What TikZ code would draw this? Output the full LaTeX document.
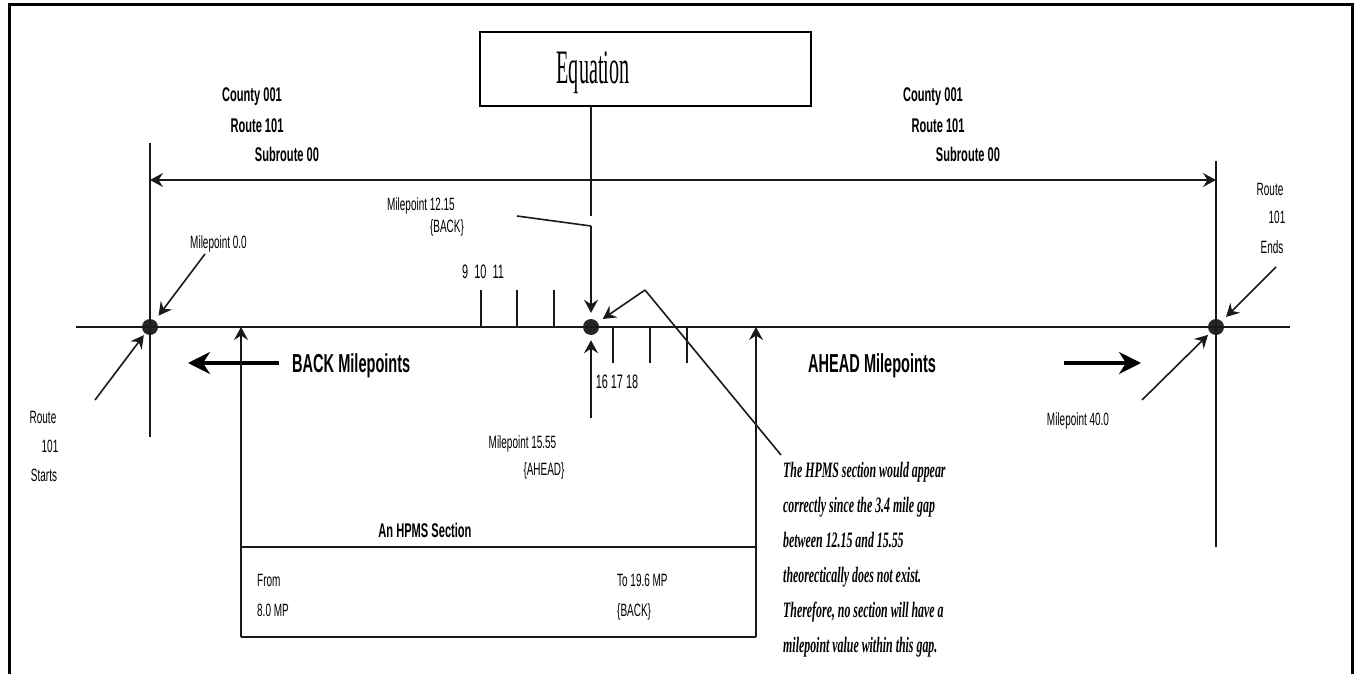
\documentclass[tikz,border=0pt]{standalone}
\usepackage{fontspec}
\usetikzlibrary{arrows.meta}
\newfontfamily\nsans{Liberation Sans}[FakeStretch=0.56]
\newfontfamily\nser{Liberation Serif}[FakeStretch=0.42]
\newfontfamily\nnote{Liberation Serif}[FakeStretch=0.54]
\begin{document}
\begin{tikzpicture}[x=1pt,y=-1pt,
  ln/.style={line width=1.6pt, black!90},
  arr/.style={ln, -{Stealth[length=13pt,width=14pt,inset=4.5pt]}},
  dbl/.style={ln, {Stealth[length=13pt,width=14pt,inset=4.5pt]}-{Stealth[length=13pt,width=14pt,inset=4.5pt]}},
  fat/.style={line width=4pt, black, -{Stealth[length=22pt,width=22pt,inset=7pt]}},
  dot/.style={circle, fill=black!85, minimum size=16pt, inner sep=0pt},
  lab/.style={font={\nsans\fontsize{17.8}{20}\selectfont}, inner sep=0pt, anchor=base},
  blab/.style={font={\nsans\bfseries\fontsize{19.8}{22}\selectfont}, inner sep=0pt, anchor=base},
  big/.style={font={\nsans\bfseries\fontsize{26}{30}\selectfont}, inner sep=0pt, anchor=base west},
  num/.style={font={\nsans\fontsize{19.5}{22}\selectfont}, inner sep=0pt, anchor=base},
  note/.style={font={\nnote\bfseries\itshape\fontsize{22}{26}\selectfont}, inner sep=0pt, anchor=base west},
  eqbox/.style={draw, line width=1.4pt, minimum width=331pt, minimum height=74pt, inner sep=0pt}
]
\useasboundingbox (0,0) rectangle (1359,674);
% frame
\coordinate (fbl) at (9,674);
\coordinate (ftl) at (9,5);
\coordinate (ftr) at (1352,5);
\coordinate (fbr) at (1352,674);
\draw[line width=3pt] (fbl) -- (ftl) -- (ftr) -- (fbr);

% equation box
\node[eqbox] (eq) at (645.5,69) {};
\node[font={\nser\fontsize{48}{52}\selectfont}, inner sep=0pt, anchor=base] (eqt) at (593,84) {Equation};
\coordinate (eqe) at (591,216);
\draw[ln] (eqe |- eq.south) -- (eqe);

% dots
\node[dot] (d0) at (150,327) {};
\node[dot] (dm) at (591,327) {};
\node[dot] (d40) at (1216,327) {};

% main line and verticals
\coordinate (hl) at (76,327);
\coordinate (hr) at (1290,327);
\draw[ln] (hl) -- (hr);
\coordinate (lvt) at (150,143);
\coordinate (lvb) at (150,437);
\coordinate (rvt) at (1216,161);
\coordinate (rvb) at (1216,547);
\draw[ln] (lvt) -- (lvb);
\draw[ln] (rvt) -- (rvb);

% route extent arrow
\coordinate (al) at (150,180);
\coordinate (ar) at (1216,180);
\draw[dbl] (al) -- (ar);

% labels top
\node[blab] (c1) at (252,102) {County 001};
\node[blab] (r1) at (257,132) {Route 101};
\node[blab] (s1) at (287,161) {Subroute 00};
\node[blab] (c2) at (933,102) {County 001};
\node[blab] (r2) at (938,132) {Route 101};
\node[blab] (s2) at (968,161) {Subroute 00};

% milepoint 0.0 arrows
\coordinate (m0a) at (205,254);
\coordinate (m0b) at (95,400);
\draw[arr, shorten >=6pt] (m0a) -- (d0);
\draw[arr, shorten >=2pt] (m0b) -- (d0);
\node[lab] (mp0) at (218.5,248) {Milepoint 0.0};
\node[lab] (rs1) at (43,423) {Route};
\node[lab] (rs2) at (50,452) {101};
\node[lab] (rs3) at (44,481) {Starts};

% milepoint 40 arrows
\coordinate (m40a) at (1276,267);
\coordinate (m40b) at (1142,400);
\draw[arr, shorten >=6pt] (m40a) -- (d40);
\draw[arr, shorten >=3pt] (m40b) -- (d40);
\node[lab] (mp40) at (1078,425) {Milepoint 40.0};
\node[lab] (re1) at (1270,195) {Route};
\node[lab] (re2) at (1277,223) {101};
\node[lab] (re3) at (1272,253) {Ends};

% 12.15 leader
\coordinate (lb1) at (517,216);
\coordinate (lb2) at (591,226);
\draw[ln] (lb1) -- (lb2);
\draw[arr, shorten >=6pt] (lb2) -- (dm);
\node[lab] (mp12) at (421,210) {Milepoint 12.15};
\node[lab] (bk1) at (447,232) {\{BACK\}};

% 15.55 leader
\coordinate (la1) at (591,418);
\draw[arr, shorten >=5pt] (la1) -- (dm);
\node[lab] (mp15) at (522.5,448) {Milepoint 15.55};
\node[lab] (ah1) at (544,475) {\{AHEAD\}};

% ticks
\coordinate (t9) at (481,290);
\coordinate (t10) at (517,290);
\coordinate (t11) at (554,290);
\draw[ln] (t9) -- (t9 |- hl);
\draw[ln] (t10) -- (t10 |- hl);
\draw[ln] (t11) -- (t11 |- hl);
\coordinate (t16) at (613,363);
\coordinate (t17) at (650,363);
\coordinate (t18) at (687,363);
\draw[ln] (t16) -- (t16 |- hl);
\draw[ln] (t17) -- (t17 |- hl);
\draw[ln] (t18) -- (t18 |- hl);
\node[num] (n9) at (483,278) {9\ \ 10\ \ 11};
\node[num] (n16) at (617,388) {16\ 17\ 18};

% direction arrows
\coordinate (ba) at (279,363);
\coordinate (bb) at (188,363);
\draw[fat] (ba) -- (bb);
\node[big] (bm) at (292,372) {BACK Milepoints};
\coordinate (fa) at (1064,363);
\coordinate (fb) at (1141,363);
\draw[fat] (fa) -- (fb);
\node[big] (am) at (808,372) {AHEAD Milepoints};

% HPMS section
\coordinate (hb1) at (241,637);
\coordinate (hb2) at (756,637);
\draw[arr] (hb1) -- (hb1 |- hl);
\draw[arr] (hb2) -- (hb2 |- hl);
\coordinate (hm1) at (241,547);
\coordinate (hm2) at (756,547);
\draw[ln] (hm1) -- (hm2);
\draw[ln] (hb1) -- (hb2);
\node[blab] (hs) at (425,537) {An HPMS Section};
\node[lab, anchor=base west] (fr1) at (257,586) {From};
\node[lab, anchor=base west] (fr2) at (257,616) {8.0 MP};
\node[lab, anchor=base west] (to1) at (617,586) {To 19.6 MP};
\node[lab, anchor=base west] (to2) at (617,616) {\{BACK\}};

% callout
\coordinate (cs) at (781,455);
\coordinate (ck) at (645,290);
\draw[ln] (cs) -- (ck);
\draw[arr, shorten >=6pt] (ck) -- (dm);
\node[note] (nt1) at (783,477) {The HPMS section would appear};
\node[note] (nt2) at (783,512) {correctly since the 3.4 mile gap};
\node[note] (nt3) at (783,547) {between 12.15 and 15.55};
\node[note] (nt4) at (783,582) {theorectically does not exist.};
\node[note] (nt5) at (783,617) {Therefore, no section will have a};
\node[note] (nt6) at (783,652) {milepoint value within this gap.};
\end{tikzpicture}
\end{document}
